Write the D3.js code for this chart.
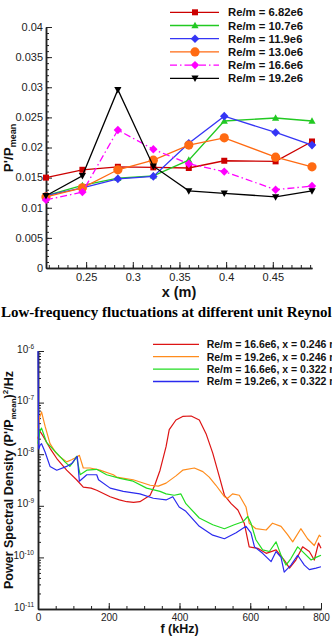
<!doctype html>
<html>
<head>
<meta charset="utf-8">
<script src="https://cdnjs.cloudflare.com/ajax/libs/d3/7.8.5/d3.min.js"></script>
<style>
  body { margin: 0; background: #fff; }
  svg { display: block; font-family: "Liberation Sans", Arial, sans-serif; }
  .axis path, .axis line { stroke: #222; }
</style>
</head>
<body>
<svg id="fig" width="332" height="642"></svg>
<script>
// ---------- top chart: P'/Pmean along x ----------
var xPos = [0.207, 0.246, 0.284, 0.322, 0.360, 0.398, 0.453, 0.492];
var re682 = [0.0150, 0.0163, 0.0168, 0.0167, 0.0166, 0.0178, 0.0177, 0.0210];
var re107 = [0.0120, 0.0137, 0.0149, 0.0153, 0.0179, 0.0244, 0.0249, 0.0244];
var re119 = [0.0120, 0.0133, 0.0148, 0.0152, 0.0207, 0.0252, 0.0225, 0.0204];
var re130 = [0.0118, 0.0133, 0.0163, 0.0179, 0.0204, 0.0216, 0.0184, 0.0168];
var re166 = [0.0113, 0.0126, 0.0229, 0.0197, 0.0173, 0.0160, 0.0130, 0.0136];
var re192 = [0.0120, 0.0153, 0.0296, 0.0169, 0.0128, 0.0124, 0.0118, 0.0128];
var topLabels = ["Re/m = 6.82e6", "Re/m = 10.7e6", "Re/m = 11.9e6",
                 "Re/m = 13.0e6", "Re/m = 16.6e6", "Re/m = 19.2e6"];
var topYTicks = [0, 0.005, 0.01, 0.015, 0.02, 0.025, 0.03, 0.035, 0.04];
var topYLabels = ["0", "0.005", "0.01", "0.015", "0.02", "0.025", "0.03", "0.035", "0.04"];
var topXTicks = [0.25, 0.3, 0.35, 0.4, 0.45];

// ---------- bottom chart: power spectral density ----------
// [f (kHz), PSD]
var psd166a = [[0,2.0e-8],[5,2.8e-8],[10,2.5e-8],[15,2.2e-8],[34,1.3e-8],[55,7.9e-9],[81,4.9e-9],
  [109,3.2e-9],[128,2.3e-9],[150,2.2e-9],[166,2.0e-9],[204,1.5e-9],[230,1.3e-9],[251,1.2e-9],
  [270,1.17e-9],[288,1.2e-9],[317,1.6e-9],[330,2.5e-9],[345,4.9e-9],[362,1.4e-8],[371,3.0e-8],
  [390,4.6e-8],[409,5.4e-8],[433,5.5e-8],[456,4.6e-8],[475,2.5e-8],[494,1.05e-8],[513,3.6e-9],
  [527,1.6e-9],[546,1.1e-9],[565,8.3e-10],[583,4.6e-10],[597,1.6e-10],[621,1.5e-10],[645,1.2e-10],
  [673,1.4e-10],[696,8.9e-11],[711,6.2e-11],[729,8.9e-11],[748,1.6e-10],[767,1.3e-10],
  [781,8.9e-11],[793,1.9e-10],[800,1.5e-10]];
var psd192a = [[0,3.2e-8],[4,5.0e-8],[10,6.6e-8],[20,3.5e-8],[34,1.6e-8],[50,1.07e-8],[62,8.9e-9],
  [81,7.1e-9],[95,7.8e-9],[111,8.9e-9],[117,9.5e-9],[128,5.4e-9],[147,5.4e-9],[175,4.9e-9],
  [213,4.0e-9],[222,3.6e-9],[269,3.2e-9],[317,2.5e-9],[340,2.4e-9],[362,2.75e-9],[390,3.8e-9],
  [409,4.9e-9],[442,5.4e-9],[466,4.6e-9],[484,3.6e-9],[503,2.5e-9],[527,1.5e-9],[536,1.4e-9],
  [550,1.7e-9],[569,1.6e-9],[588,9.5e-10],[597,4.6e-10],[616,3.6e-10],[645,3.4e-10],[663,4.6e-10],
  [687,4.0e-10],[705,2.8e-10],[720,2.0e-10],[743,3.6e-10],[762,2.3e-10],[781,1.7e-10],
  [795,2.7e-10],[800,2.5e-10]];
var psd166b = [[0,1.6e-8],[5,2.8e-8],[10,3.2e-8],[24,1.7e-8],[53,1.05e-8],[76,7.1e-9],[90,5.8e-9],
  [100,7.1e-9],[109,9.1e-9],[119,4.0e-9],[138,4.9e-9],[166,5.1e-9],[194,4.0e-9],[232,3.4e-9],
  [269,3.0e-9],[307,2.2e-9],[345,1.9e-9],[362,1.7e-9],[385,1.6e-9],[404,1.7e-9],[418,1.1e-9],
  [456,5.8e-10],[494,4.3e-10],[527,3.6e-10],[555,4.3e-10],[579,4.9e-10],[593,6.2e-10],[602,4.6e-10],
  [616,2.2e-10],[635,1.4e-10],[654,1.3e-10],[673,2.0e-10],[687,1.1e-10],[701,7.1e-11],[715,9.5e-11],
  [734,1.6e-10],[753,1.2e-10],[772,8.9e-11],[786,1.0e-10],[800,1.1e-10]];
var psd192b = [[0,1.0e-6],[2,1.26e-8],[6,1.5e-8],[10,1.6e-8],[20,1.1e-8],[34,5.8e-9],[53,4.9e-9],
  [81,5.8e-9],[95,6.6e-9],[111,9.1e-9],[117,3.0e-9],[138,4.0e-9],[166,4.0e-9],[171,3.2e-9],
  [204,2.2e-9],[241,1.9e-9],[288,1.7e-9],[326,1.4e-9],[362,1.3e-9],[381,1.5e-9],[399,9.5e-10],
  [418,7.8e-10],[456,4.0e-10],[494,2.7e-10],[527,2.3e-10],[560,3.0e-10],[588,4.0e-10],[602,3.0e-10],
  [612,1.6e-10],[635,1.2e-10],[659,8.3e-11],[673,1.3e-10],[687,1.0e-10],[696,5.2e-11],[715,7.1e-11],
  [734,1.1e-10],[753,7.1e-11],[767,5.8e-11],[786,6.2e-11],[800,6.6e-11]];
var psdLabels = ["Re/m = 16.6e6, x = 0.246 m", "Re/m = 19.2e6, x = 0.246 m",
                 "Re/m = 16.6e6, x = 0.322 m", "Re/m = 19.2e6, x = 0.322 m"];
var fTicks = [0, 200, 400, 600, 800];
var decades = [-11, -10, -9, -8, -7, -6];

var svg = d3.select("#fig");
svg.append("rect").attr("width", 332).attr("height", 642).attr("fill", "#fff");

// marker shapes
function marker(kind, s) {
  if (kind == "square") return "M" + -s + "," + -s + "h" + 2 * s + "v" + 2 * s + "h" + -2 * s + "Z";
  if (kind == "up") return "M0," + (-s * 1.05) + "L" + s + "," + s * 0.75 + "L" + -s + "," + s * 0.75 + "Z";
  if (kind == "down") return "M0," + (s * 1.05) + "L" + s + "," + -s * 0.75 + "L" + -s + "," + -s * 0.75 + "Z";
  if (kind == "diamond") return "M0," + -s + "L" + s + ",0L0," + s + "L" + -s + ",0Z";
  return d3.symbol(d3.symbolCircle, Math.PI * s * s)();
}

var topSeries = [
  {v: re682, color: "#cc0000", mk: "square", s: 3},
  {v: re107, color: "#22c922", mk: "up", s: 3.6},
  {v: re119, color: "#3535f5", mk: "diamond", s: 4.3},
  {v: re130, color: "#ff6a12", mk: "circle", s: 4.6},
  {v: re166, color: "#ff00ff", mk: "diamond", s: 4.2, dash: "7,3,1.5,3"},
  {v: re192, color: "#000000", mk: "down", s: 3.6}
];

var x1 = d3.scaleLinear().domain([0.207, 0.492]).range([46, 312]);
var y1 = d3.scaleLinear().domain([0, 0.04]).range([268, 27]);

// axes of the top chart (ticks point inward)
svg.append("g").attr("class", "axis").attr("transform", "translate(0,268)")
  .call(d3.axisBottom(x1).tickValues(d3.range(0.21, 0.4951, 0.01)).tickSize(-3).tickSizeOuter(0).tickFormat(""));
var gx1 = svg.append("g").attr("class", "axis").attr("transform", "translate(0,268)")
  .call(d3.axisBottom(x1).tickValues(topXTicks).tickSize(-6).tickSizeOuter(0).tickPadding(5).tickFormat(d3.format("~g")));
gx1.selectAll("text").attr("font-size", 11).attr("fill", "#222");
svg.append("g").attr("class", "axis").attr("transform", "translate(46,0)")
  .call(d3.axisLeft(y1).tickValues(d3.range(0, 0.04001, 0.001)).tickSize(-3).tickSizeOuter(0).tickFormat(""));
svg.append("g").attr("class", "axis").attr("transform", "translate(46,0)")
  .call(d3.axisLeft(y1).tickValues(topYTicks).tickSize(-6).tickSizeOuter(0).tickFormat(""));
svg.append("g").selectAll("text").data(topYTicks).enter().append("text")
  .attr("x", 43).attr("y", function(d) { return y1(d); }).attr("dy", "0.35em")
  .attr("text-anchor", "end").attr("font-size", 11).attr("fill", "#222")
  .text(function(d, i) { return topYLabels[i]; });
svg.selectAll(".axis path.domain").attr("stroke-width", 1.5);

var line1 = d3.line().x(function(d, i) { return x1(xPos[i]); }).y(function(d) { return y1(d); });
topSeries.forEach(function(s) {
  svg.append("path").attr("d", line1(s.v)).attr("fill", "none")
    .attr("stroke", s.color).attr("stroke-width", 1.3).attr("stroke-dasharray", s.dash || null);
  svg.append("g").selectAll("path").data(s.v).enter().append("path")
    .attr("d", marker(s.mk, s.s))
    .attr("transform", function(d, i) { return "translate(" + x1(xPos[i]) + "," + y1(d) + ")"; })
    .attr("fill", s.color);
});

// legend (top)
topSeries.forEach(function(s, i) {
  var yy = 12.3 + i * 13.2;
  svg.append("line").attr("x1", 170).attr("x2", 219).attr("y1", yy).attr("y2", yy)
    .attr("stroke", s.color).attr("stroke-width", 1.3).attr("stroke-dasharray", s.dash || null);
  svg.append("path").attr("d", marker(s.mk, s.s)).attr("transform", "translate(195," + yy + ")").attr("fill", s.color);
  svg.append("text").attr("x", 228).attr("y", yy + 4).attr("font-size", 11.3).attr("font-weight", "bold")
    .attr("fill", "#111").text(topLabels[i]);
});

// titles (top)
svg.append("text").attr("x", 179).attr("y", 296.5).attr("text-anchor", "middle")
  .attr("font-size", 14.5).attr("font-weight", "bold").attr("fill", "#111").text("x (m)");
var yt1 = svg.append("text").attr("transform", "translate(12.5,148) rotate(-90)").attr("text-anchor", "middle")
  .attr("font-size", 13.5).attr("font-weight", "bold").attr("fill", "#111");
yt1.append("tspan").text("P'/P");
yt1.append("tspan").attr("font-size", 9).attr("dy", 3.5).text("mean");

// caption
svg.append("text").attr("x", 1).attr("y", 317).attr("font-family", "Liberation Serif, Times New Roman, serif")
  .attr("font-size", 15).attr("font-weight", "bold").attr("fill", "#000")
  .text("Low-frequency fluctuations at different unit Reynolds numbers");

// ---------- bottom chart ----------
var x2 = d3.scaleLinear().domain([0, 800]).range([38, 321]);
var y2 = d3.scaleLog().domain([1e-11, 1e-6]).range([609, 351]);

var minor = [];
decades.slice(0, -1).forEach(function(e) {
  for (var k = 2; k < 10; k++) minor.push(k * Math.pow(10, e));
});

svg.append("g").attr("class", "axis").attr("transform", "translate(0,609)")
  .call(d3.axisBottom(x2).tickValues(d3.range(50, 800, 50)).tickSize(-3).tickSizeOuter(0).tickFormat(""));
var gx2 = svg.append("g").attr("class", "axis").attr("transform", "translate(0,609)")
  .call(d3.axisBottom(x2).tickValues(fTicks).tickSize(-6).tickSizeOuter(0).tickPadding(5));
gx2.selectAll("text").attr("font-size", 10).attr("fill", "#222");
svg.append("g").attr("class", "axis").attr("transform", "translate(38,0)")
  .call(d3.axisLeft(y2).tickValues(minor).tickSize(-3).tickSizeOuter(0).tickFormat(""));
var gy2 = svg.append("g").attr("class", "axis").attr("transform", "translate(38,0)")
  .call(d3.axisLeft(y2).tickValues(decades.map(function(e) { return Math.pow(10, e); }))
    .tickSize(-6).tickSizeOuter(0).tickFormat(""));
gy2.selectAll(".tick").each(function(d) {
  var t = d3.select(this).append("text").attr("x", -4).attr("dy", "0.1em").attr("text-anchor", "end")
    .attr("font-size", 10).attr("fill", "#222");
  t.append("tspan").text("10");
  t.append("tspan").attr("font-size", 6.5).attr("dy", -4).text(String(Math.round(Math.log10(d))));
});
svg.selectAll(".axis path.domain").attr("stroke-width", 1.5);

var psdSeries = [
  {v: psd166a, color: "#dd1414"},
  {v: psd192a, color: "#ff8c1c"},
  {v: psd166b, color: "#22dd22"},
  {v: psd192b, color: "#2a2aee"}
];
var line2 = d3.line().x(function(d) { return x2(d[0]); }).y(function(d) { return y2(d[1]); });
psdSeries.forEach(function(s) {
  svg.append("path").attr("d", line2(s.v)).attr("fill", "none")
    .attr("stroke", s.color).attr("stroke-width", 1.2).attr("stroke-linejoin", "round");
});

// legend (bottom)
psdSeries.forEach(function(s, i) {
  var yy = 344.3 + i * 12.4;
  svg.append("line").attr("x1", 153).attr("x2", 199).attr("y1", yy).attr("y2", yy)
    .attr("stroke", s.color).attr("stroke-width", 1.3);
  svg.append("text").attr("x", 206.7).attr("y", yy + 3.8).attr("font-size", 10.5).attr("font-weight", "bold")
    .attr("fill", "#111").text(psdLabels[i]);
});

// titles (bottom)
svg.append("text").attr("x", 179.5).attr("y", 633).attr("text-anchor", "middle")
  .attr("font-size", 12.5).attr("font-weight", "bold").attr("fill", "#111").text("f (kHz)");
var yt2 = svg.append("text").attr("transform", "translate(13,480) rotate(-90)").attr("text-anchor", "middle")
  .attr("font-size", 12.5).attr("font-weight", "bold").attr("fill", "#111");
yt2.append("tspan").text("Power Spectral Density (P'/P");
yt2.append("tspan").attr("font-size", 8).attr("dy", 3).text("mean");
yt2.append("tspan").attr("dy", -3).text(")");
yt2.append("tspan").attr("font-size", 8).attr("dy", -5).text("2");
yt2.append("tspan").attr("dy", 5).text("/Hz");
</script>
</body>
</html>
